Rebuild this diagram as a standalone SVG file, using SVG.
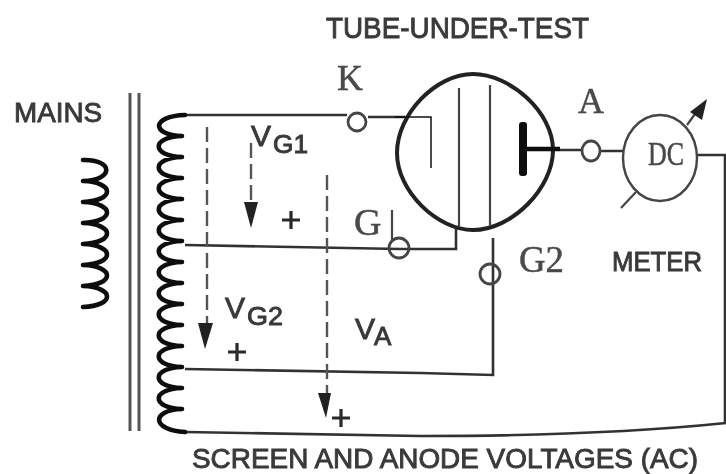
<svg xmlns="http://www.w3.org/2000/svg" width="726" height="474" viewBox="0 0 726 474">
<style>
.w{fill:none;stroke:#333;stroke-width:2.6}
.t{fill:none;stroke:#444;stroke-width:2.2}
.k{fill:none;stroke:#555;stroke-width:3}
.c{fill:none;stroke:#111;stroke-width:4.6;stroke-linejoin:round;stroke-linecap:round}
.d{fill:none;stroke:#555;stroke-width:2.4;stroke-dasharray:15 6}
.a{fill:#222}
.s{font-family:"Liberation Sans",Arial,sans-serif;fill:#3a3a3a;stroke:#3a3a3a;stroke-width:.9}
.r{font-family:"Liberation Serif","Times New Roman",serif;fill:#4a4a4a;stroke:#4a4a4a;stroke-width:.5}
.n{fill:none;stroke:#444;stroke-width:2.8}
.p{fill:none;stroke:#2a2a2a;stroke-width:3.2}
</style>
<defs><filter id="soft" x="0" y="0" width="100%" height="100%"><feGaussianBlur stdDeviation="0.45"/></filter></defs>
<rect width="726" height="474" fill="#fff"/>
<g filter="url(#soft)">
<g id="connectors">
<path class="w" d="M185 115H347M368 117H405"/>
<path class="w" d="M185 245L400 249H456V226"/>
<path class="w" d="M185 369L420 373L493 375V238"/>
<path class="w" d="M185 432L420 436Q600 436 726 423"/>
<path class="w" d="M697 155H725V423"/>
<path class="w" d="M560 150H581M601 151H624"/>
<path class="d" d="M207 127V325"/>
<path class="d" d="M251 143V203"/>
<path class="d" d="M327 175V395"/>
<path class="a" d="M244 202H258L251 228Z"/>
<path class="a" d="M198 323H213L205 349Z"/>
<path class="a" d="M318 393H331L326 418Z"/>
</g>
<g id="mains-coil"><path class="c" d="M83 160c30-1 32 20 0 21c32 1 32 20 0 21c32 1 32 20 0 21c32 1 32 20 0 21c32 1 32 20 0 21c32 1 32 20 0 21c32 1 32 20 0 21"/></g>
<g id="core"><path class="k" d="M130 93V431M139 93V431"/></g>
<g id="secondary-coil"><path class="c" d="M185 115c-34 1-34 20-3 21c-31 1-31 20 0 21c-31 1-31 20 0 21c-31 1-31 20 0 21c-31 1-31 20 0 21c-31 1-31 20 0 21c-31 1-31 20 0 21c-31 1-31 20 0 21c-31 1-31 20 0 21c-31 1-31 20 0 21c-31 1-31 20 0 21c-31 1-31 20 0 21c-31 1-31 20 0 21c-31 1-31 20 0 21c-31 1-31 21 3 23"/></g>
<g id="tube">
<path d="M473 74C510 74 553 112 553 150C553 188 512 230 473 230C438 230 397 192 397 153C397 114 436 74 473 74Z" fill="none" stroke="#222" stroke-width="4"/>
<path class="t" d="M459 88V226M490 85V226"/>
<path d="M395 117H431V168" fill="none" stroke="#111" stroke-width="1.5"/>
<rect x="519" y="122" width="8" height="54" rx="3" fill="#111"/>
<path d="M522 149H560" stroke="#111" stroke-width="4.5"/>
</g>
<g id="terminal-k"><circle class="n" cx="357" cy="122" r="9"/></g>
<g id="terminal-g1"><circle class="n" cx="399" cy="248" r="10"/><path class="t" d="M392 210V240"/></g>
<g id="terminal-g2"><circle class="n" cx="490" cy="274" r="10"/></g>
<g id="terminal-a"><ellipse class="n" cx="591" cy="151" rx="9" ry="10"/></g>
<g id="meter"><ellipse cx="660" cy="158" rx="37" ry="43" fill="none" stroke="#444" stroke-width="2.4"/>
<path class="t" d="M621 208L636 192M687 125L695 114"/><path class="a" d="M690 112L707 99L702 120Z"/>
<text class="r" x="648" y="165" font-size="33" textLength="36" lengthAdjust="spacingAndGlyphs">DC</text></g>
<g id="labels">
<text class="s" x="326" y="38" font-size="29" textLength="263" lengthAdjust="spacingAndGlyphs">TUBE-UNDER-TEST</text>
<text class="s" x="14" y="122" font-size="27" textLength="88" lengthAdjust="spacingAndGlyphs">MAINS</text>
<text class="s" x="612" y="271" font-size="27" textLength="90" lengthAdjust="spacingAndGlyphs">METER</text>
<text class="s" x="192" y="468" font-size="27" textLength="506" lengthAdjust="spacingAndGlyphs">SCREEN AND ANODE VOLTAGES (AC)</text>
<text class="r" x="337" y="90" font-size="36">K</text>
<text class="r" x="354" y="235" font-size="38">G</text>
<text class="r" x="519" y="272" font-size="38" textLength="45" lengthAdjust="spacingAndGlyphs">G2</text>
<text class="r" x="578" y="113" font-size="36">A</text>
<text class="s" x="251" y="146" font-size="30">V</text><text class="s" x="273" y="153" font-size="25" textLength="35" lengthAdjust="spacingAndGlyphs">G1</text>
<text class="s" x="225" y="318" font-size="30">V</text><text class="s" x="247" y="325" font-size="25" textLength="36" lengthAdjust="spacingAndGlyphs">G2</text>
<text class="s" x="355" y="339" font-size="30">V</text><text class="s" x="374" y="345" font-size="26">A</text>
<path class="p" d="M291 211V229M282 220H300M237 343V361M228 352H246M341 409V427M332 418H350"/>
</g>
</g>
</svg>
